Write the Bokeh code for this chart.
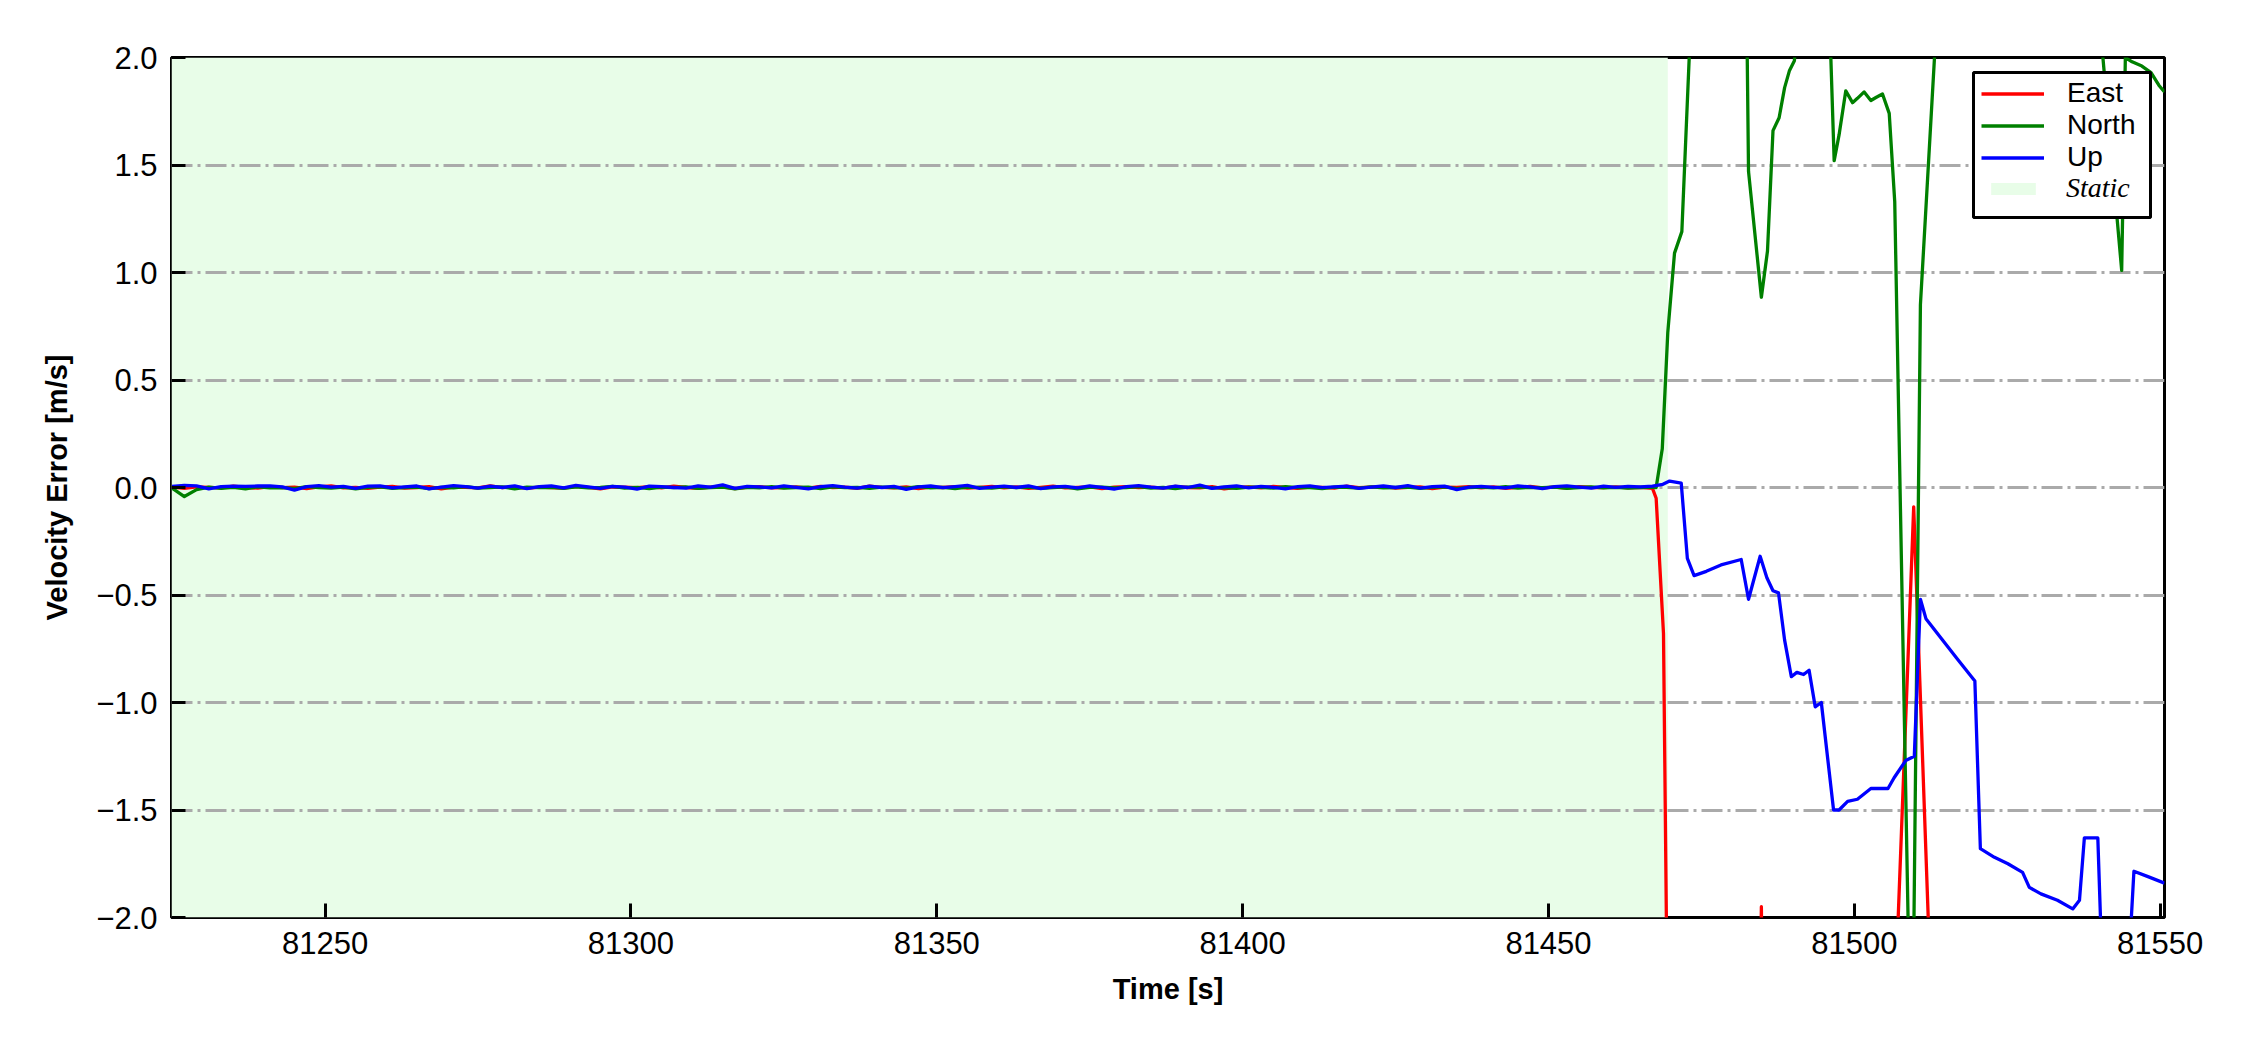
from bokeh.plotting import figure
from bokeh.models import (Range1d, FixedTicker, CustomJSTickFormatter, Legend,
                          LegendItem, BoxAnnotation)
from bokeh.embed import file_html
from bokeh.resources import INLINE

# ---------------- data ----------------
x_limits = [81224.9, 81550.7]
y_limits = [-2.0, 2.0]
x_ticks = [81250, 81300, 81350, 81400, 81450, 81500, 81550]
y_ticks = [-2.0, -1.5, -1.0, -0.5, 0.0, 0.5, 1.0, 1.5, 2.0]
static_span = [81224.9, 81469.5]

# static period samples (every 2 s)
t_static = list(range(81225, 81468, 2))

east_static = [0.002, -0.004, 0.003, 0.001, -0.002, 0.006, 0.000, -0.003, 0.004, -0.001,
               0.002, -0.005, 0.003, 0.007, -0.002, 0.001, -0.004, 0.002, 0.005, -0.003,
               0.000, 0.004, -0.006, 0.002, 0.001, -0.002, 0.008, -0.001, 0.003, -0.004,
               0.002, 0.000, -0.003, 0.005, 0.001, -0.006, 0.003, 0.002, -0.001, 0.004,
               -0.002, 0.006, 0.000, -0.004, 0.002, 0.003, -0.005, 0.001, 0.004, -0.002,
               0.000, 0.003, -0.003, 0.005, -0.001, 0.002, -0.004, 0.006, 0.001, -0.002,
               0.003, -0.005, 0.002, 0.000, 0.004, -0.003, 0.001, 0.005, -0.002, 0.003,
               -0.004, 0.001, 0.006, -0.002, 0.000, 0.003, -0.005, 0.002, 0.004, -0.001,
               0.002, -0.003, 0.005, 0.000, -0.002, 0.004, -0.006, 0.001, 0.003, -0.002,
               0.005, 0.000, -0.004, 0.002, 0.001, -0.003, 0.006, -0.001, 0.002, 0.004,
               -0.003, 0.001, 0.003, -0.005, 0.002, 0.000, 0.004, -0.002, 0.003, -0.004,
               0.001, 0.005, -0.002, 0.002, -0.003, 0.004, 0.000, -0.001, 0.003, -0.002,
               0.001, -0.004]

north_static = [-0.003, -0.042, -0.010, 0.002, -0.004, 0.001, -0.006, 0.003, -0.002, 0.000,
                -0.005, 0.004, -0.001, -0.003, 0.002, -0.006, 0.001, 0.003, -0.004, 0.000,
                0.002, -0.005, 0.001, -0.002, 0.004, -0.003, 0.000, 0.003, -0.006, 0.002,
                -0.001, 0.001, -0.004, 0.003, -0.002, 0.000, 0.005, -0.003, 0.001, -0.005,
                0.002, -0.001, 0.003, -0.004, 0.000, 0.002, -0.006, 0.001, -0.002, 0.004,
                -0.003, 0.000, 0.002, -0.005, 0.003, -0.001, 0.001, -0.004, 0.002, 0.000,
                -0.003, 0.004, -0.002, 0.001, -0.005, 0.002, 0.000, -0.003, 0.003, -0.001,
                0.002, -0.004, 0.000, 0.003, -0.006, 0.001, 0.002, -0.002, 0.000, 0.004,
                -0.003, 0.001, -0.005, 0.002, 0.003, -0.002, 0.000, -0.004, 0.002, 0.001,
                -0.003, 0.004, -0.001, 0.000, -0.005, 0.002, 0.001, -0.003, 0.003, -0.002,
                0.000, 0.002, -0.004, 0.001, 0.003, -0.005, 0.000, 0.002, -0.002, 0.004,
                -0.003, 0.001, -0.001, 0.002, -0.004, 0.000, 0.003, -0.002, 0.001, -0.003,
                0.000, 0.002]

up_static = [0.005, 0.010, 0.008, -0.006, 0.004, 0.006, 0.005, 0.007, 0.008, 0.003,
             -0.012, 0.004, 0.009, 0.002, 0.005, -0.004, 0.006, 0.008, -0.002, 0.003,
             0.007, -0.006, 0.002, 0.009, 0.004, -0.003, 0.006, 0.000, 0.008, -0.005,
             0.004, 0.007, -0.002, 0.010, 0.003, -0.004, 0.005, 0.002, -0.008, 0.006,
             0.004, 0.000, -0.003, 0.007, 0.002, 0.012, -0.004, 0.005, 0.003, -0.002,
             0.008, 0.001, -0.006, 0.004, 0.009, 0.002, -0.003, 0.006, 0.000, 0.005,
             -0.009, 0.003, 0.007, -0.001, 0.004, 0.010, -0.004, 0.002, 0.006, 0.000,
             0.008, -0.005, 0.003, 0.005, -0.002, 0.007, 0.001, -0.007, 0.004, 0.009,
             0.002, -0.003, 0.006, 0.000, 0.011, -0.004, 0.003, 0.007, -0.002, 0.005,
             0.001, -0.006, 0.004, 0.008, -0.001, 0.003, 0.006, -0.004, 0.002, 0.007,
             0.000, 0.009, -0.003, 0.004, 0.006, -0.010, 0.002, 0.005, 0.001, -0.002,
             0.007, 0.003, -0.005, 0.004, 0.008, 0.002, -0.003, 0.006, 0.001, 0.005,
             0.003, 0.006]

# dynamic period samples
east_dyn_t = [81467.6, 81468.8, 81469.8, 81472.0, 81476.0, 81480.0, 81483.8, 81484.8,
              81485.8, 81490.0, 81495.0, 81500.0, 81504.0, 81506.7, 81507.7, 81508.7,
              81509.7, 81510.7, 81511.7, 81512.7, 81516.0, 81522.0, 81528.0, 81534.0,
              81540.0, 81546.0, 81550.7]
east_dyn_v = [-0.05, -0.68, -3.5, -5.2, -4.6, -5.0, -4.2, -1.95,
              -4.4, -5.5, -6.0, -5.3, -4.8, -2.35, -1.6, -0.85,
              -0.09, -0.9, -1.7, -2.5, -4.0, -5.5, -6.2, -5.8,
              -6.5, -6.0, -5.7]

north_dyn_t = [81467.6, 81468.6, 81469.5, 81470.6, 81471.8, 81473.6, 81476.0, 81479.0,
               81481.7, 81482.7, 81484.8, 81485.8, 81486.7, 81487.7, 81488.6, 81489.4,
               81490.2, 81491.2, 81493.0, 81495.7, 81496.7, 81497.5, 81498.6, 81499.7,
               81500.5, 81501.6, 81502.7, 81503.6, 81504.6, 81505.7, 81506.6, 81509.4,
               81510.8, 81513.6, 81518.0, 81525.0, 81532.0, 81539.7, 81543.7, 81544.3,
               81545.4, 81547.0, 81548.5, 81549.8, 81550.7]
north_dyn_v = [0.00, 0.18, 0.72, 1.09, 1.19, 2.4, 2.8, 3.1,
               4.0, 1.47, 0.885, 1.10, 1.66, 1.72, 1.86, 1.94,
               1.985, 2.4, 3.0, 2.4, 1.52, 1.64, 1.845, 1.79,
               1.81, 1.84, 1.80, 1.815, 1.83, 1.74, 1.33, -2.95,
               0.85, 2.25, 3.2, 3.6, 3.0, 2.3, 1.01, 2.0,
               1.98, 1.96, 1.93, 1.87, 1.84]

up_dyn_t = [81468.7, 81469.8, 81471.7, 81472.7, 81473.8, 81475.8, 81478.2, 81481.5,
            81482.7, 81484.6, 81485.7, 81486.7, 81487.6, 81488.6, 81489.7, 81490.6,
            81491.7, 81492.6, 81493.6, 81494.6, 81496.6, 81497.5, 81498.9, 81500.5,
            81502.7, 81504.1, 81505.5, 81506.5, 81508.4, 81509.8, 81510.8, 81511.7,
            81516.9, 81519.7, 81520.6, 81522.9, 81525.1, 81527.5, 81528.6, 81530.5,
            81533.2, 81535.7, 81536.8, 81537.6, 81539.8, 81540.7, 81544.7, 81545.7,
            81548.0, 81550.7]
up_dyn_v = [0.015, 0.03, 0.02, -0.33, -0.41, -0.39, -0.36, -0.335,
            -0.52, -0.32, -0.42, -0.48, -0.49, -0.71, -0.88, -0.86,
            -0.87, -0.85, -1.02, -1.00, -1.50, -1.50, -1.46, -1.45,
            -1.40, -1.40, -1.40, -1.35, -1.27, -1.25, -0.52, -0.61,
            -0.80, -0.90, -1.68, -1.72, -1.75, -1.79, -1.86, -1.89,
            -1.92, -1.96, -1.92, -1.63, -1.63, -2.4, -2.3, -1.785,
            -1.81, -1.84]

series_names = ["East", "North", "Up"]
series_colors = ["#ff0000", "#008000", "#0000ff"]
static_label = "Static"
static_color = "#e8fde8"

east_t = t_static + east_dyn_t
east_v = east_static + east_dyn_v
north_t = t_static + north_dyn_t
north_v = north_static + north_dyn_v
up_t = t_static + up_dyn_t
up_v = up_static + up_dyn_v

# ---------------- layout constants ----------------
W, H = 2234, 1034
BL, BT = 171, 57
BR = W - 2164
BB = H - 917
FONT = "Liberation Sans"
LW = 3.3

p = figure(width=W, height=H, output_backend="svg", toolbar_location=None,
           x_range=Range1d(*x_limits), y_range=Range1d(*y_limits),
           min_border_left=BL, min_border_right=BR, min_border_top=BT, min_border_bottom=BB,
           background_fill_color="white", border_fill_color="white")

p.outline_line_color = "black"
p.outline_line_width = 3
p.outline_line_alpha = 1.0

p.xaxis.ticker = FixedTicker(ticks=x_ticks)
p.yaxis.ticker = FixedTicker(ticks=y_ticks)
p.xaxis.formatter = CustomJSTickFormatter(code="return tick.toFixed(0);")
p.yaxis.formatter = CustomJSTickFormatter(code="return tick.toFixed(1).replace('-', '\\u2212');")

for ax in (p.xaxis[0], p.yaxis[0]):
    ax.axis_line_color = None
    ax.major_tick_in = 14
    ax.major_tick_out = 0
    ax.major_tick_line_width = 3
    ax.major_tick_line_color = "black"
    ax.minor_tick_line_color = None
    ax.major_label_text_font = FONT
    ax.major_label_text_font_size = "31px"
    ax.major_label_text_color = "black"
    ax.axis_label_text_font = FONT
    ax.axis_label_text_font_size = "29px"
    ax.axis_label_text_font_style = "bold"
    ax.axis_label_text_color = "black"

p.xaxis.axis_label = "Time [s]"
p.yaxis.axis_label = "Velocity Error [m/s]"
p.xaxis.major_label_standoff = 14
p.xaxis.axis_label_standoff = 16
p.yaxis.major_label_standoff = 14
p.yaxis.axis_label_standoff = 20

p.xgrid.visible = False
p.ygrid.grid_line_color = "#aaaaaa"
p.ygrid.grid_line_width = 3
p.ygrid.grid_line_dash = "21 5 3 5"

# static shaded region
p.quad(left=[static_span[0]], right=[static_span[1]], bottom=[y_limits[0]], top=[y_limits[1]],
       fill_color=static_color, line_color=None, level="image")
# hidden twin of the static region, only used for its legend swatch
static_proxy = p.quad(left=[static_span[0]], right=[static_span[1]], bottom=[y_limits[0]],
                      top=[y_limits[1]], fill_color=static_color,
                      line_color="white", line_width=13, visible=False)

r_e = p.line(east_t, east_v, line_color=series_colors[0], line_width=LW, line_join="round")
r_n = p.line(north_t, north_v, line_color=series_colors[1], line_width=LW, line_join="round")
r_u = p.line(up_t, up_v, line_color=series_colors[2], line_width=LW, line_join="round")

# legend (frame-relative screen coordinates)
fx0, fy0 = 171.0, 917.0  # frame left / bottom in page coords
def fx(px):
    return int(round(px - fx0))
def fy(py):
    return int(round(fy0 - py))

box_bg = BoxAnnotation(left=fx(1972.7), right=fx(2150.0), top=fy(71.7), bottom=fy(216.7),
                       left_units="screen", right_units="screen", top_units="screen",
                       bottom_units="screen", fill_color="white", fill_alpha=1.0,
                       line_color=None)
p.add_layout(box_bg)

legA = Legend(items=[LegendItem(label=series_names[0], renderers=[r_e]),
                     LegendItem(label=series_names[1], renderers=[r_n]),
                     LegendItem(label=series_names[2], renderers=[r_u])],
              location=(1810, 744), orientation="vertical",
              glyph_width=63, glyph_height=31, label_height=31, label_standoff=23,
              padding=8, spacing=0, margin=0,
              label_text_font=FONT, label_text_font_size="28px", label_text_color="black",
              border_line_color=None, background_fill_alpha=0.0)
p.add_layout(legA)

legB = Legend(items=[LegendItem(label=static_label, renderers=[static_proxy])],
              location=(fx(1976.8), fy(204.2)), orientation="vertical",
              glyph_width=72, glyph_height=31, label_height=31, label_standoff=17,
              padding=0, spacing=0, margin=0,
              label_text_font="Liberation Serif", label_text_font_style="italic",
              label_text_font_size="28px", label_text_color="black",
              inactive_fill_alpha=0.0,
              border_line_color=None, background_fill_alpha=0.0)
p.add_layout(legB)

box_border = BoxAnnotation(left=fx(1972.7), right=fx(2150.0), top=fy(71.7), bottom=fy(216.7),
                           left_units="screen", right_units="screen", top_units="screen",
                           bottom_units="screen", fill_alpha=0.0, line_color="black",
                           line_width=3, line_alpha=1.0)
p.add_layout(box_border)

open("out.html", "w").write(file_html(p, INLINE))
